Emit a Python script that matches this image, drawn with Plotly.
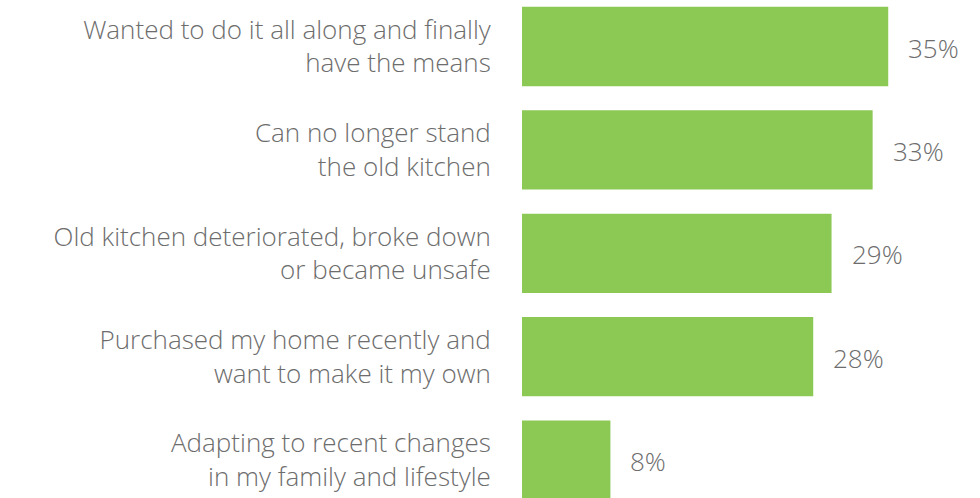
import plotly.graph_objects as go

categories = [
    "Wanted to do it all along and finally<br>have the means",
    "Can no longer stand<br>the old kitchen",
    "Old kitchen deteriorated, broke down<br>or became unsafe",
    "Purchased my home recently and<br>want to make it my own",
    "Adapting to recent changes<br>in my family and lifestyle",
]
values = [34.76, 33.28, 29.38, 27.64, 8.39]
value_labels = ["35%", "33%", "29%", "28%", "8%"]

BAR = "#8bc954"
TXT = "#6d6d6d"
FONT = "Open Sans"

fig = go.Figure()
fig.add_trace(go.Bar(
    x=values, y=categories, orientation="h",
    marker=dict(color=BAR, line=dict(width=0)),
    hoverinfo="skip",
))

for v, c, t in zip(values, categories, value_labels):
    fig.add_annotation(
        x=v, y=c, text=t, showarrow=False, xanchor="left", yanchor="middle",
        xshift=18, yshift=-1,
        font=dict(family=FONT, size=26, color=TXT, weight=300),
    )

fig.update_layout(
    width=980, height=498,
    margin=dict(l=522, r=0, t=0, b=0),
    paper_bgcolor="white", plot_bgcolor="white",
    bargap=0.233,
    showlegend=False,
    font=dict(family=FONT, color=TXT),
)
fig.update_xaxes(range=[0, 43.47], visible=False, fixedrange=True)
fig.update_yaxes(
    type="category", categoryorder="array", categoryarray=categories,
    range=[4.3665, -0.4497],
    showgrid=False, zeroline=False, showline=False,
    ticks="outside", ticklen=25, tickcolor="rgba(0,0,0,0)",
    tickfont=dict(family=FONT, size=26, color=TXT, weight=300),
)

fig.write_html("out.html", config={"displayModeBar": False},
               post_script="document.body.style.margin='0';")
